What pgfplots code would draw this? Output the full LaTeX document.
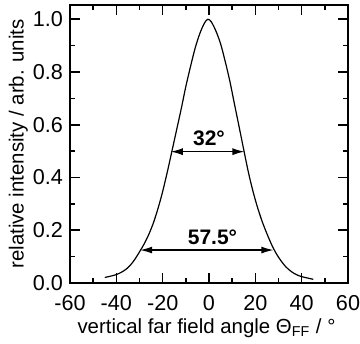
\documentclass[border=0pt]{standalone}
\usepackage{fontspec}
\setmainfont{Liberation Sans}
\usepackage{pgfplots}
\pgfplotsset{compat=1.18}
\usetikzlibrary{arrows.meta}
\begin{document}
\begin{tikzpicture}
\begin{axis}[
 name=ax,
 width=139pt, height=139pt, scale only axis,
 xmin=-60, xmax=60, ymin=0, ymax=1.054,
 xtick={-60,-40,-20,0,20,40,60}, minor xtick={-50,-30,-10,10,30,50},
 ytick={0,0.2,0.4,0.6,0.8,1.0}, minor ytick={0.1,0.3,0.5,0.7,0.9},
 tick align=inside,
 major tick length=5pt, minor tick length=2.5pt,
 axis line style={line width=1pt},
 every tick/.style={line width=0.8pt, black},
 yticklabel style={/pgf/number format/.cd, fixed, fixed zerofill, precision=1},
 /pgf/number format/assume math mode=true,
 tick label style={font=\fontsize{10.8}{13}\selectfont},
 xticklabel style={yshift=-2.5pt},
 label style={font=\fontsize{10.2}{12}\selectfont},
 xlabel={vertical far field angle Θ\textsubscript{FF} / °},
 ylabel={relative intensity / arb. units},
 xlabel style={at={(rel axis cs:0.491,-0.183)}, anchor=base, inner sep=0pt},
 ylabel style={at={(rel axis cs:-0.186,0.5)}, anchor=center, inner sep=0pt},
 clip=false,
]
\addplot[black, line width=0.6pt, smooth] coordinates {
(-45,0.021) (-42,0.027) (-40,0.032) (-38,0.040) (-36,0.051) (-34,0.067)
(-32,0.090) (-30,0.118) (-28,0.148) (-26,0.184) (-24,0.228) (-22,0.283)
(-20,0.347) (-18,0.421) (-16,0.500) (-14,0.580) (-12,0.660) (-10,0.745)
(-8,0.820) (-6,0.890) (-4,0.945) (-2,0.985) (-0.5,1.0) (1,0.990)
(3,0.955) (5,0.907) (7,0.840) (9,0.765) (11,0.678) (13,0.592)
(15,0.505) (17,0.420) (19,0.347) (21,0.285) (23,0.232) (25,0.187)
(27,0.146) (29,0.112) (31,0.085) (33,0.063) (35,0.047) (37,0.035)
(39,0.027) (41,0.022) (43,0.018) (45,0.014)
};
\draw[{Latex[length=6pt,width=3.5pt]}-{Latex[length=6pt,width=3.5pt]}, line width=0.6pt] (axis cs:-16.5,0.498) -- (axis cs:15.3,0.498);
\draw[{Latex[length=6pt,width=3.5pt]}-{Latex[length=6pt,width=3.5pt]}, line width=0.6pt] (axis cs:-29.7,0.125) -- (axis cs:27.8,0.125);
\node[font=\bfseries\fontsize{10.5}{12}\selectfont] at (axis cs:0,0.55) {32°};
\node[font=\bfseries\fontsize{10.5}{12}\selectfont] at (axis cs:1.5,0.172) {57.5°};
\end{axis}
\pgfresetboundingbox
\path[use as bounding box] ([xshift=-35pt,yshift=-30pt]ax.south west) rectangle ([xshift=6pt,yshift=2.5pt]ax.north east);
\end{tikzpicture}
\end{document}
